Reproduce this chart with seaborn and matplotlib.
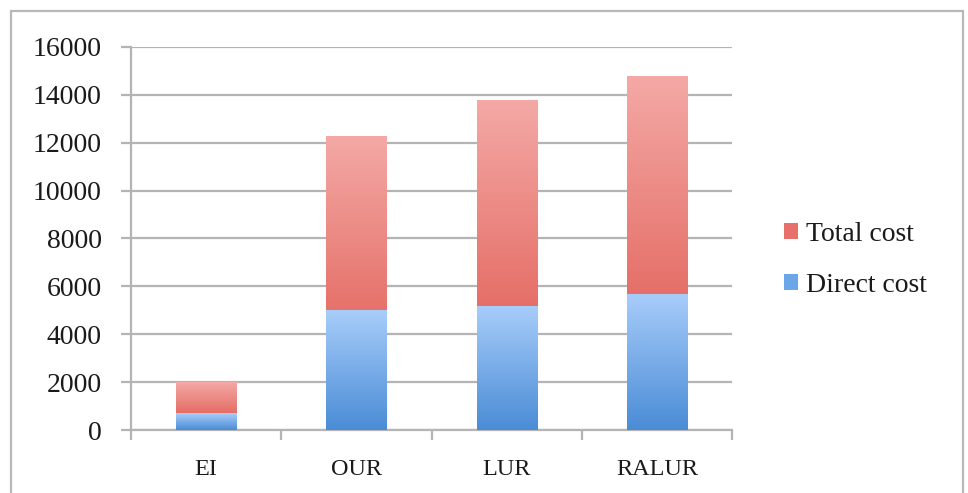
import numpy as np
import pandas as pd
import matplotlib
matplotlib.use("Agg")
import matplotlib.pyplot as plt
import seaborn as sns
from matplotlib.colors import LinearSegmentedColormap
from matplotlib.patches import Rectangle, Patch

categories = ["EI", "OUR", "LUR", "RALUR"]
direct_cost = [700, 5000, 5200, 5700]
total_cost = [2000, 12300, 13800, 14800]
yticks = [0, 2000, 4000, 6000, 8000, 10000, 12000, 14000, 16000]

sns.set_theme(style="white")
plt.rcParams['font.family'] = ['Liberation Serif', 'DejaVu Serif']

fig = plt.figure(figsize=(9.68, 4.93), dpi=100)
fig.patch.set_facecolor("white")
ax = fig.add_axes([131/968, 1-430/493, (732-131)/968, (430-47)/493])

df = pd.DataFrame({"cat": categories, "direct": direct_cost, "total": total_cost})
sns.barplot(data=df, x="cat", y="total", color="#e06058", width=0.4, ax=ax,
            saturation=1)
n_red = len(ax.patches)
sns.barplot(data=df, x="cat", y="direct", color="#6aa6e8", width=0.4, ax=ax,
            saturation=1)
if ax.get_legend() is not None:
    ax.get_legend().remove()

red_cmap = LinearSegmentedColormap.from_list("r", ["#dc4c42", "#f4a9a6"])
blue_cmap = LinearSegmentedColormap.from_list("b", ["#4a8cd6", "#a8cdfa"])
grad = np.linspace(0, 1, 256).reshape(-1, 1)
for i, p in enumerate(ax.patches):
    x0, y0 = p.get_x(), p.get_y()
    w, h = p.get_width(), p.get_height()
    cmap = red_cmap if i < n_red else blue_cmap
    im = ax.imshow(grad, cmap=cmap, aspect="auto", origin="lower",
                   extent=[x0, x0 + w, y0, y0 + h], zorder=2 + (i >= n_red))
    im.set_clip_path(p)
    p.set_facecolor("none")
    p.set_edgecolor("none")

ax.set_xlim(-0.5, len(categories) - 0.5)
ax.set_ylim(0, 16000)
ax.set_yticks(yticks)
ax.set_yticklabels([str(v) for v in yticks], fontsize=20)
ax.set_xticks(range(len(categories)))
ax.set_xticklabels(categories, fontsize=17.5)
ax.set_xlabel("")
ax.set_ylabel("")
ax.yaxis.grid(True, color="#b4b4b4", linewidth=1.6, zorder=0)
ax.set_axisbelow(True)
for s in ["top", "right"]:
    ax.spines[s].set_visible(False)
for s in ["left", "bottom"]:
    ax.spines[s].set_color("#b4b4b4")
    ax.spines[s].set_linewidth(1.6)

# ticks
ax.tick_params(axis="y", which="both", length=7, width=1.6, color="#b4b4b4",
               direction="out", left=True, pad=14, labelcolor="#1a1a1a")
ax.tick_params(axis="x", which="major", length=0, pad=21, labelcolor="#1a1a1a")
ax.set_xticks(np.arange(-0.5, len(categories), 1.0), minor=True)
ax.tick_params(axis="x", which="minor", length=7, width=1.6, color="#b4b4b4",
               direction="out", bottom=True)

# legend
handles = [Patch(facecolor="#e8706a", edgecolor="none", label="Total cost"),
           Patch(facecolor="#6aa6e8", edgecolor="none", label="Direct cost")]
fig.legend(handles=handles, loc="center left", bbox_to_anchor=(759/968, 1-260/493),
           frameon=False, fontsize=20, handlelength=0.5, handleheight=0.5,
           handletextpad=0.3, labelspacing=0.95, labelcolor="#1a1a1a")

# outer frame
fig.add_artist(Rectangle((11/968, -0.01), (963-11)/968, 1 - 11/493 + 0.01,
                         transform=fig.transFigure, fill=False,
                         edgecolor="#b8b8b8", linewidth=1.6))

fig.savefig("out.png", dpi=100, facecolor="white")
